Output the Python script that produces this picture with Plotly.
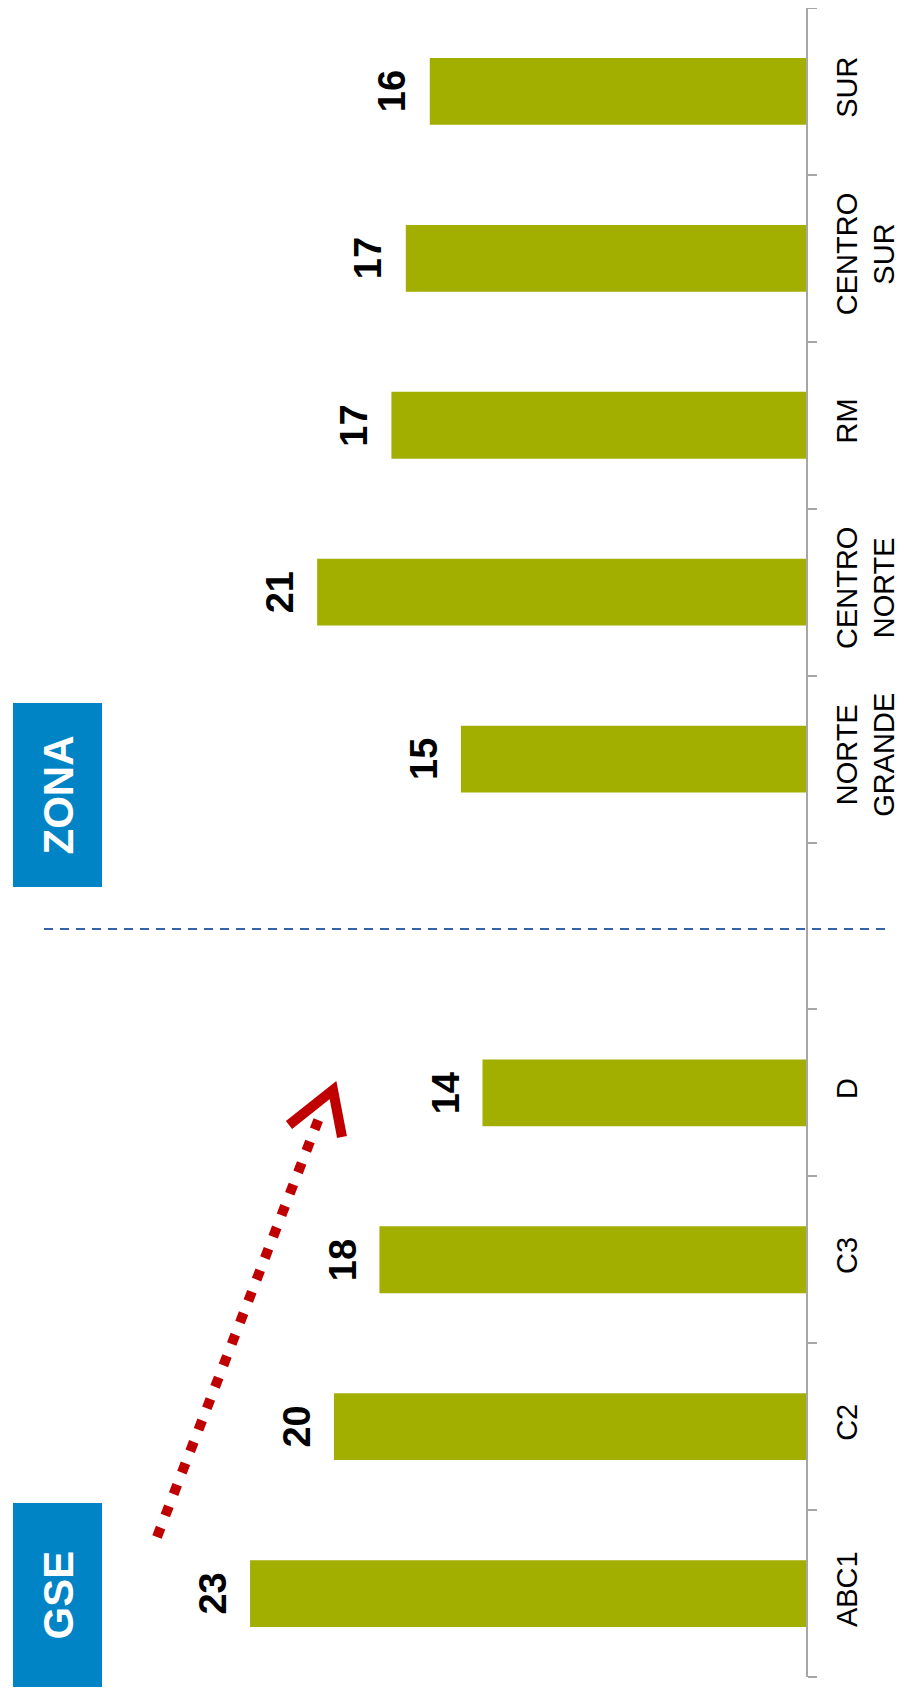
import plotly.graph_objects as go

# Data (bottom to top in the rotated chart)
categories = ["ABC1", "C2", "C3", "D", " ", "NORTE<br>GRANDE", "CENTRO<br>NORTE", "RM", "CENTRO<br>SUR", "SUR"]
values = [23.2, 19.7, 17.8, 13.5, None, 14.4, 20.4, 17.3, 16.7, 15.7]
value_labels = ["23", "20", "18", "14", "", "15", "21", "17", "17", "16"]
group_labels = ["GSE", "ZONA"]

FONT = "Liberation Sans, Arial, sans-serif"
W, H = 904, 1690
OFF = 8  # page body margin: figure is drawn 8px right/down in the screenshot
ML, MR, MT, MB = 0, W - (806 - OFF), 0, H - (1677 - OFF)
PW, PH = W - ML - MR, H - MT - MB


def px(x):
    # screen x -> paper x
    return (x - OFF - ML) / PW


def py(y):
    # screen y -> paper y
    return (H - MB - (y - OFF)) / PH


fig = go.Figure()
fig.add_trace(go.Bar(
    y=categories, x=values, orientation="h",
    marker=dict(color="#A2AE00", line=dict(width=0)),
    hoverinfo="skip",
))

annotations = []
for cat, v, lab in zip(categories, values, value_labels):
    if v is None:
        continue
    annotations.append(dict(xref="x", yref="y", x=v, y=cat, text=f"<b>{lab}</b>",
                            showarrow=False, textangle=-90, xanchor="right", yanchor="middle",
                            xshift=-14, font=dict(family=FONT, size=38, color="#000000")))

shapes = []
# dashed separator
shapes.append(dict(type="line", xref="paper", yref="paper",
                   x0=px(44), x1=px(888), y0=py(929), y1=py(929),
                   line=dict(color="#3563A8", width=2, dash="9px,7px")))
# group boxes
box_spans = [(1503, 1687), (703, 887)]
for (y0, y1) in box_spans:
    shapes.append(dict(type="rect", xref="paper", yref="paper",
                       x0=px(13), x1=px(102), y0=py(y1), y1=py(y0),
                       fillcolor="#0084C6", line=dict(width=0), layer="above"))
# red dotted arrow
shapes.append(dict(type="line", xref="paper", yref="paper",
                   x0=px(157), y0=py(1537), x1=px(321), y1=py(1113),
                   line=dict(color="#C00000", width=10, dash="10px,13px")))
shapes.append(dict(type="path", xref="paper", yref="paper",
                   path=f"M {px(289)},{py(1125)} L {px(333)},{py(1090)} L {px(342)},{py(1137)}",
                   line=dict(color="#C00000", width=10)))

for (y0, y1), lab in zip(box_spans, group_labels):
    annotations.append(dict(xref="paper", yref="paper", x=px(57.5), y=py((y0 + y1) / 2),
                            text=f"<b>{lab}</b>", showarrow=False, textangle=-90,
                            font=dict(family=FONT, size=42, color="#FFFFFF"),
                            xanchor="center", yanchor="middle"))

fig.update_layout(
    width=W, height=H,
    margin=dict(l=ML, r=MR, t=MT, b=MB, autoexpand=False),
    paper_bgcolor="#FFFFFF", plot_bgcolor="#FFFFFF",
    showlegend=False, bargap=0.6,
    shapes=shapes, annotations=annotations,
    xaxis=dict(range=[33.3, 0], visible=False, fixedrange=True, automargin=False),
    yaxis=dict(
        type="category", categoryorder="array", categoryarray=categories,
        range=[-0.5, 9.5], side="right", automargin=False,
        showline=True, linecolor="#A6A6A6", linewidth=2,
        ticks="outside", tickson="boundaries", ticklen=9, tickwidth=2, tickcolor="#A6A6A6",
        tickangle=-90, ticklabelstandoff=14,
        tickfont=dict(family=FONT, size=29, color="#000000"),
        showgrid=False, zeroline=False, fixedrange=True,
    ),
)

fig.write_html("out.html")
